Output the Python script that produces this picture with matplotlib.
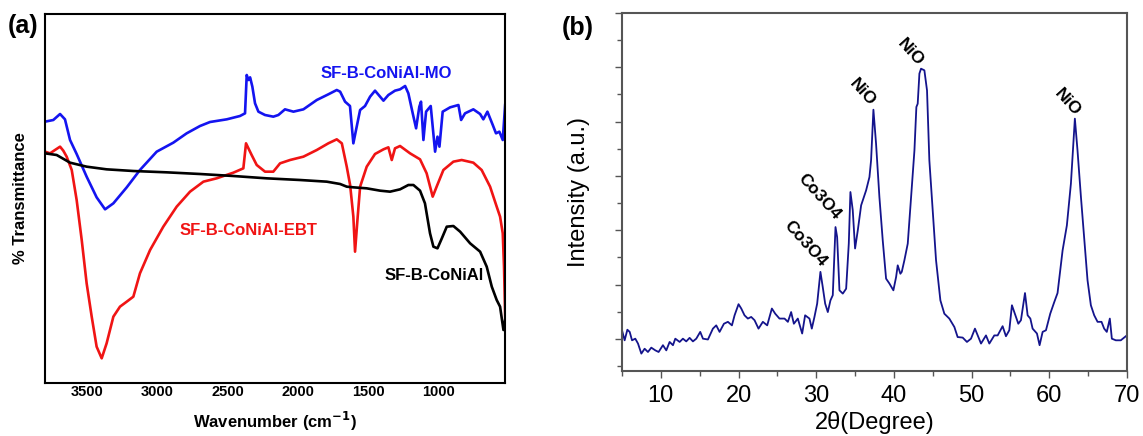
import matplotlib
matplotlib.use('agg')
import matplotlib.pyplot as plt
from matplotlib.ticker import MultipleLocator

plt.rcParams['font.family'] = ['Liberation Sans', 'DejaVu Sans']

# FTIR spectra (wavenumber in cm-1, transmittance in arbitrary offset units)
mo_wn = [3800, 3741, 3693, 3658, 3622, 3575, 3504, 3433, 3373, 3314, 3219, 3125,
         3006, 2888, 2793, 2698, 2627, 2508, 2414, 2378, 2366, 2354, 2342, 2326,
         2307, 2283, 2236, 2177, 2141, 2094, 2034, 1963, 1868, 1786, 1726, 1702,
         1667, 1632, 1608, 1589, 1560, 1525, 1489, 1454, 1418, 1394, 1359, 1312,
         1276, 1240, 1217, 1186, 1162, 1139, 1127, 1110, 1091, 1058, 1027, 1010,
         996, 973, 920, 861, 842, 814, 755, 707, 684, 655, 617, 594, 570, 546, 529]
mo_t = [78.4, 78.9, 80.7, 79.1, 72.9, 68.7, 61.9, 55.7, 52.1, 53.9, 58.7, 63.9,
        69.4, 72.1, 74.9, 77.1, 78.3, 79.1, 80.1, 80.9, 92.4, 90.9, 91.7, 88.9,
        83.9, 81.4, 80.4, 79.9, 80.4, 82.1, 81.4, 82.1, 84.9, 86.6, 87.9, 87.4,
        84.4, 83.1, 71.9, 75.9, 81.9, 83.1, 85.9, 87.7, 85.9, 84.7, 86.4, 87.7,
        88.1, 89.1, 86.9, 80.9, 76.4, 82.9, 84.4, 72.9, 81.4, 83.1, 69.4, 73.9,
        70.9, 81.4, 82.7, 83.4, 78.9, 80.9, 82.1, 80.7, 79.1, 81.4, 77.4, 74.9,
        75.4, 72.9, 83.4]

ebt_wn = [3800, 3764, 3729, 3693, 3670, 3646, 3610, 3575, 3539, 3504, 3468, 3433,
          3397, 3362, 3314, 3267, 3219, 3172, 3125, 3053, 2959, 2864, 2769, 2674,
          2580, 2461, 2390, 2371, 2354, 2331, 2295, 2236, 2177, 2129, 2058, 1963,
          1868, 1786, 1726, 1690, 1655, 1631, 1608, 1596, 1579, 1560, 1513, 1454,
          1394, 1359, 1335, 1312, 1276, 1205, 1134, 1087, 1044, 1016, 968, 897,
          838, 755, 696, 636, 589, 565, 546, 537, 528]
ebt_t = [69.4, 68.9, 69.9, 70.9, 69.7, 67.9, 63.9, 54.9, 42.9, 29.9, 19.9, 10.9,
         7.4, 11.9, 19.9, 22.9, 24.4, 25.9, 32.9, 39.9, 46.9, 52.9, 57.4, 60.4,
         61.4, 63.1, 64.4, 71.9, 70.4, 68.4, 65.4, 63.4, 63.4, 65.9, 66.9, 67.9,
         69.9, 71.9, 73.1, 71.9, 64.9, 59.4, 49.9, 39.4, 48.9, 58.9, 64.9, 68.7,
         70.1, 70.7, 66.9, 70.4, 71.1, 68.9, 67.1, 62.9, 55.9, 58.9, 63.9, 66.4,
         66.9, 66.1, 63.9, 58.9, 52.9, 49.9, 44.9, 34.9, 18.9]

bare_wn = [3800, 3717, 3622, 3504, 3362, 3172, 2935, 2698, 2461, 2224, 1987, 1797,
           1702, 1655, 1608, 1513, 1418, 1347, 1276, 1217, 1181, 1134, 1099, 1063,
           1039, 1010, 979, 944, 897, 849, 778, 707, 660, 624, 589, 565, 541, 529]
bare_t = [68.9, 68.4, 66.1, 64.9, 64.1, 63.6, 63.2, 62.7, 62.1, 61.4, 60.9, 60.4,
          59.7, 58.9, 58.7, 58.4, 57.7, 57.4, 58.1, 59.4, 59.4, 57.7, 53.9, 44.9,
          40.9, 40.4, 43.4, 46.9, 47.1, 45.4, 41.9, 39.4, 34.9, 28.9, 24.9, 22.9,
          15.9, 18.9]

ftir_ticks = [3500, 3000, 2500, 2000, 1500, 1000]

# XRD pattern
xrd_2theta = [5.00, 5.34, 5.69, 5.99, 6.29, 6.71, 7.06, 7.49, 7.91, 8.34, 8.77, 9.29,
              9.71, 10.27, 10.70, 11.13, 11.56, 11.86, 12.42, 12.84, 13.27, 13.70,
              14.13, 14.56, 15.07, 15.42, 16.06, 16.70, 17.13, 17.56, 18.12, 18.63,
              19.15, 19.49, 20.00, 20.35, 20.77, 21.20, 21.63, 22.06, 22.57, 23.13,
              23.69, 24.29, 24.72, 25.27, 25.92, 26.35, 26.77, 27.12, 27.63, 28.19,
              28.57, 29.13, 29.43, 29.77, 30.12, 30.54, 30.84, 31.15, 31.49, 31.83,
              32.13, 32.48, 32.69, 32.99, 33.42, 33.85, 34.19, 34.40, 34.70, 35.00,
              35.35, 35.78, 36.42, 36.85, 37.06, 37.36, 37.70, 38.13, 38.56, 38.99,
              39.42, 39.93, 40.28, 40.49, 40.83, 41.01, 41.35, 41.78, 42.21, 42.64,
              42.89, 43.06, 43.28, 43.49, 43.92, 44.26, 44.56, 44.99, 45.42, 45.98,
              46.49, 47.13, 47.78, 48.20, 48.85, 49.40, 49.92, 50.43, 50.78, 51.21,
              51.85, 52.28, 52.92, 53.35, 53.99, 54.42, 54.85, 55.19, 55.49, 56.01,
              56.35, 56.87, 57.21, 57.56, 57.85, 58.41, 58.75, 59.14, 59.57, 60.12,
              60.64, 61.06, 61.71, 62.26, 62.78, 63.29, 63.63, 64.07, 64.58, 64.92,
              65.35, 65.78, 66.21, 66.72, 67.06, 67.40, 67.79, 68.05, 68.56, 69.20,
              69.85]
xrd_int = [32, -5, 34, 26, -5, 1, -17, -54, -36, -48, -32, -42,
           -48, -23, -42, -11, -23, 1, -11, 1, -9, 4,
           -9, 1, 26, 1, -2, 38, 50, 26, 56, 63,
           50, 87, 128, 112, 87, 75, 81, 69, 38, 63,
           50, 112, 93, 75, 75, 63, 99, 56, 75, 20,
           87, 75, 38, 81, 130, 247, 191, 130, 99, 142,
           161, 412, 375, 179, 167, 185, 351, 541, 474, 333,
           400, 492, 547, 596, 658, 844, 719, 523, 363, 222,
           204, 179, 228, 271, 240, 247, 290, 351, 523, 694,
           854, 866, 977, 995, 989, 915, 658, 474, 290, 142,
           93, 75, 44, 7, 5, -11, 1, 38, 13, -17,
           13, -17, 13, 13, 47, 10, 32, 124, 99, 56,
           69, 169, 87, 75, 38, 20, -23, 26, 32, 93,
           136, 169, 326, 418, 572, 811, 694, 523, 339, 216,
           124, 87, 63, 63, 38, 26, 75, 1, -5, -5,
           10]

# phase labels: text, 2theta, intensity
phase_names = ['Co3O4', 'Co3O4', 'NiO', 'NiO', 'NiO']
phase_x = [28.6, 30.4, 36.0, 42.2, 62.3]
phase_y = [351, 523, 909, 1056, 872]

fig = plt.figure(figsize=(11.43, 4.36), dpi=100)

# ---- (a) FTIR ----
ax1 = fig.add_axes([45/1143, 53/436, 460/1143, 369/436])
ax1.plot(mo_wn, mo_t, color='#1414f0', lw=1.9)
ax1.plot(ebt_wn, ebt_t, color='#f01414', lw=1.9)
ax1.plot(bare_wn, bare_t, color='black', lw=1.9)
ax1.set_xlim(3800, 530)
ax1.set_ylim(0, 110.7)
ax1.set_xticks(ftir_ticks)
ax1.set_yticks([])
ax1.tick_params(axis='x', length=0, pad=1.5, labelsize=10.5)
for lbl in ax1.get_xticklabels():
    lbl.set_fontweight('bold')
for s in ax1.spines.values():
    s.set_linewidth(1.5)
ax1.set_xlabel('Wavenumber (cm$^{\\mathbf{-1}}$)', fontsize=12, fontweight='bold')
ax1.xaxis.set_label_coords(0.5, -0.072)
ax1.set_ylabel('% Transmittance', fontsize=12, fontweight='bold')
ax1.yaxis.set_label_coords(-0.036, 0.5)
ax1.text(1375, 93.0, 'SF-B-CoNiAl-MO', color='#1414f0', fontsize=12,
         fontweight='bold', ha='center', va='center')
ax1.text(2357, 45.9, 'SF-B-CoNiAl-EBT', color='#f01414', fontsize=12,
         fontweight='bold', ha='center', va='center')
ax1.text(1034, 32.4, 'SF-B-CoNiAl', color='black', fontsize=12,
         fontweight='bold', ha='center', va='center')
fig.text(23/1143, 1 - 26/436, '(a)', fontsize=18, fontweight='bold',
         ha='center', va='center')

# ---- (b) XRD ----
ax2 = fig.add_axes([622/1143, 65/436, 505/1143, 358/436])
ax2.plot(xrd_2theta, xrd_int, color='#14148c', lw=1.3)
ax2.set_xlim(5, 70)
ax2.set_ylim(-118, 1200)
ax2.xaxis.set_major_locator(MultipleLocator(10))
ax2.xaxis.set_minor_locator(MultipleLocator(5))
ax2.yaxis.set_major_locator(MultipleLocator(200))
ax2.yaxis.set_minor_locator(MultipleLocator(100))
ax2.tick_params(axis='both', which='both', direction='out', color='#555555', width=1)
ax2.tick_params(axis='both', which='major', length=5)
ax2.tick_params(axis='both', which='minor', length=3.5)
ax2.tick_params(axis='x', labelsize=17, pad=5)
ax2.tick_params(axis='y', labelleft=False)
for s in ax2.spines.values():
    s.set_linewidth(1.5)
    s.set_color('#555555')
ax2.set_xlabel('2\u03b8(Degree)', fontsize=17)
ax2.xaxis.set_label_coords(0.5, -0.112)
ax2.set_ylabel('Intensity (a.u.)', fontsize=17)
ax2.yaxis.set_label_coords(-0.064, 0.5)
for name, x, y in zip(phase_names, phase_x, phase_y):
    ax2.text(x, y, name, fontsize=12.5, fontweight='bold', rotation=-48,
             ha='center', va='center', rotation_mode='anchor')
fig.text(578/1143, 1 - 28/436, '(b)', fontsize=18, fontweight='bold',
         ha='center', va='center')

fig.savefig('out.png', dpi=100)
